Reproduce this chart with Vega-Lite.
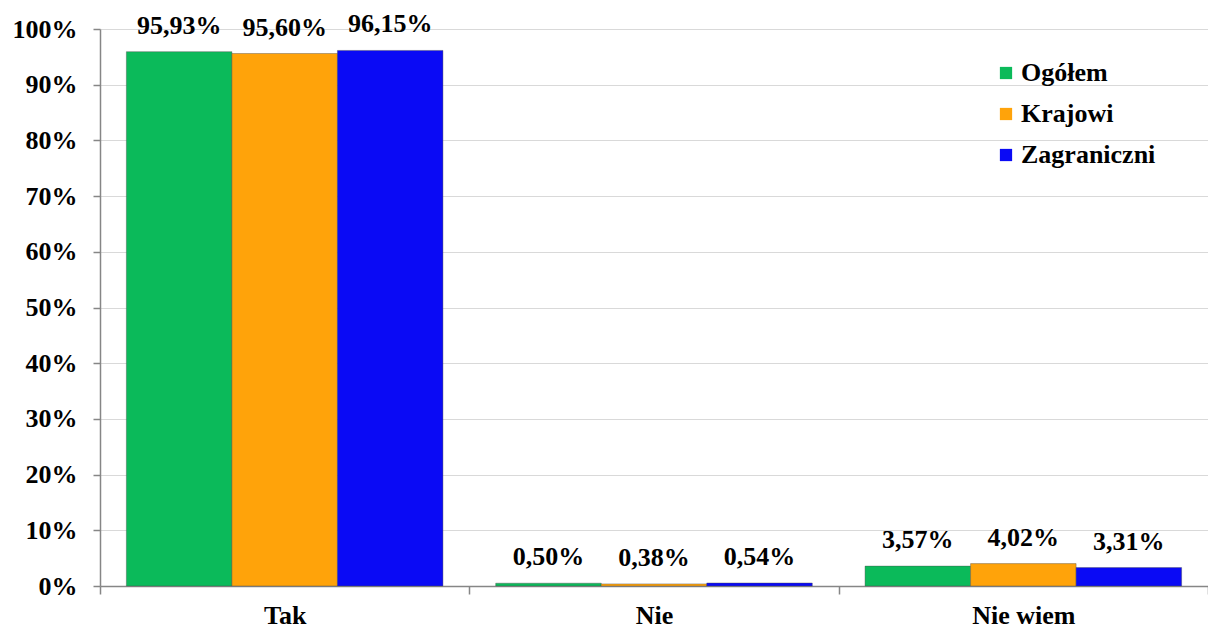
{
  "$schema": "https://vega.github.io/schema/vega-lite/v6.json",
  "width": 1108,
  "height": 557,
  "autosize": {"type": "none"},
  "padding": {"left": 100, "top": 29, "right": 0, "bottom": 43},
  "background": "white",
  "config": {
    "locale": {"number": {"decimal": ",", "thousands": ".", "grouping": [3], "currency": ["", " zł"]}},
    "view": {"stroke": null},
    "font": "Liberation Serif"
  },
  "data": {
    "values": [
      {"cat": "Tak", "grp": "Ogółem", "v": 0.9593},
      {"cat": "Tak", "grp": "Krajowi", "v": 0.9560},
      {"cat": "Tak", "grp": "Zagraniczni", "v": 0.9615},
      {"cat": "Nie", "grp": "Ogółem", "v": 0.0050},
      {"cat": "Nie", "grp": "Krajowi", "v": 0.0038},
      {"cat": "Nie", "grp": "Zagraniczni", "v": 0.0054},
      {"cat": "Nie wiem", "grp": "Ogółem", "v": 0.0357},
      {"cat": "Nie wiem", "grp": "Krajowi", "v": 0.0402},
      {"cat": "Nie wiem", "grp": "Zagraniczni", "v": 0.0331}
    ]
  },
  "encoding": {
    "x": {
      "field": "cat", "type": "nominal", "sort": ["Tak", "Nie", "Nie wiem"], "title": null,
      "scale": {"paddingInner": 0, "paddingOuter": 0},
      "axis": {"labelAngle": 0, "labelFont": "Liberation Serif", "labelFontWeight": "bold", "labelFontSize": 26, "labelColor": "black", "labelPadding": 8,
               "domainColor": "#868686", "domainWidth": 1.5, "tickColor": "#868686", "tickBand": "extent", "tickSize": 8, "tickWidth": 1.5}
    },
    "xOffset": {"field": "grp", "type": "nominal", "sort": ["Ogółem", "Krajowi", "Zagraniczni"], "scale": {"paddingInner": 0, "paddingOuter": 0.25}},
    "y": {
      "field": "v", "type": "quantitative", "title": null,
      "scale": {"domain": [0, 1], "nice": false},
      "axis": {"format": ".0%", "values": [0,0.1,0.2,0.3,0.4,0.5,0.6,0.7,0.8,0.9,1], "labelOverlap": false,
               "labelFont": "Liberation Serif", "labelFontWeight": "bold", "labelFontSize": 26, "labelColor": "black", "labelPadding": 16,
               "domainColor": "#868686", "domainWidth": 1.5, "tickColor": "#868686", "tickSize": 7, "tickWidth": 1.5,
               "grid": true, "gridColor": "#d9d9d9", "gridWidth": 1.2}
    }
  },
  "layer": [
    {
      "mark": {"type": "bar", "stroke": "#4a4a4a", "strokeOpacity": 0.4, "strokeWidth": 1},
      "encoding": {
        "color": {
          "field": "grp", "type": "nominal", "sort": ["Ogółem", "Krajowi", "Zagraniczni"],
          "scale": {"domain": ["Ogółem", "Krajowi", "Zagraniczni"], "range": ["#0BBA5A", "#FFA30A", "#0A0AF5"]},
          "legend": {"title": null, "orient": "none", "legendX": 893, "legendY": 31,
                     "symbolType": "square", "symbolSize": 150, "symbolStrokeWidth": 0,
                     "labelFont": "Liberation Serif", "labelFontWeight": "bold", "labelFontSize": 26, "labelColor": "black",
                     "rowPadding": 15, "labelOffset": 2}
        }
      }
    },
    {
      "mark": {"type": "text", "baseline": "alphabetic", "dy": -18, "font": "Liberation Serif", "fontWeight": "bold", "fontSize": 26, "color": "black"},
      "encoding": {"text": {"field": "v", "type": "quantitative", "format": ".2%"}}
    }
  ]
}
